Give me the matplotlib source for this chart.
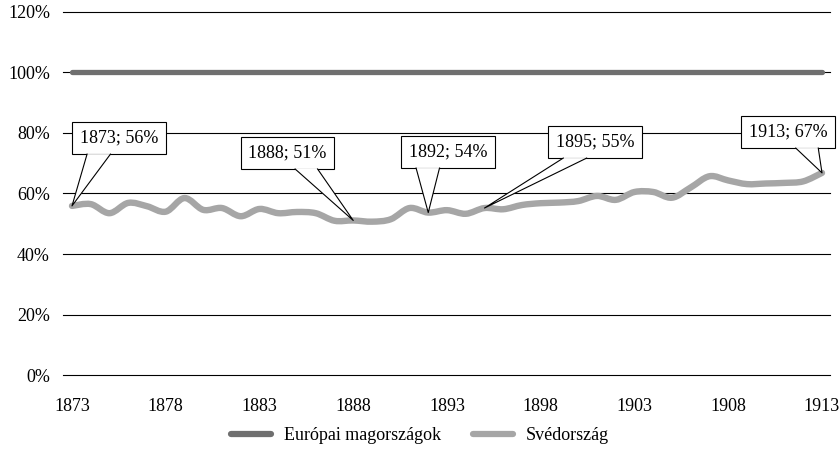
import numpy as np
import matplotlib.pyplot as plt
from matplotlib.path import Path
from matplotlib.patches import PathPatch, Polygon
from matplotlib.lines import Line2D

plt.rcParams['font.family'] = ['Liberation Serif', 'DejaVu Serif']

years = list(range(1873, 1914))
europe = [100] * len(years)
sweden = [55.9, 56.5, 53.5, 56.9, 55.8, 54.0, 58.5, 54.6, 55.2, 52.5,
          54.9, 53.5, 53.9, 53.5, 51.0, 51.1, 50.7, 51.5, 55.2, 53.7,
          54.5, 53.3, 55.2, 54.8, 56.2, 56.8, 57.0, 57.5, 59.2, 57.9,
          60.5, 60.5, 58.6, 62.0, 65.7, 64.3, 63.1, 63.3, 63.5, 64.0, 66.8]
xticks = [1873, 1878, 1883, 1888, 1893, 1898, 1903, 1908, 1913]
yticks = [0, 20, 40, 60, 80, 100, 120]

# callouts: year, label text, box centre (x, y)
callouts = [
    (1873, '1873; 56%', (1875.5, 78.3)),
    (1888, '1888; 51%', (1884.5, 73.4)),
    (1892, '1892; 54%', (1893.05, 73.7)),
    (1895, '1895; 55%', (1900.9, 77.0)),
    (1913, '1913; 67%', (1911.2, 80.3)),
]


def smooth_path(x, y):
    # Excel-style smoothed line: Catmull-Rom turned into cubic Bezier segments
    x = np.asarray(x, float)
    y = np.asarray(y, float)
    verts = [(x[0], y[0])]
    codes = [Path.MOVETO]
    n = len(x)
    for i in range(n - 1):
        p0 = i - 1 if i > 0 else i
        p3 = i + 2 if i + 2 < n else i + 1
        c1 = (x[i] + (x[i + 1] - x[p0]) / 6, y[i] + (y[i + 1] - y[p0]) / 6)
        c2 = (x[i + 1] - (x[p3] - x[i]) / 6, y[i + 1] - (y[p3] - y[i]) / 6)
        verts += [c1, c2, (x[i + 1], y[i + 1])]
        codes += [Path.CURVE4] * 3
    return Path(verts, codes)


fig = plt.figure(figsize=(8.4, 4.57), dpi=100)
ax = fig.add_axes([63 / 840, 0.1788, (830 - 63) / 840, 0.9744 - 0.1788])

ax.set_xlim(1873 - 9 / 18.75, 1913 + 8 / 18.75)
ax.set_ylim(0, 120)
for v in yticks:
    ax.axhline(v, color='black', lw=0.8, zorder=1, clip_on=False)

ax.plot(years, europe, color='#6f6f6f', lw=3.8, solid_capstyle='round', zorder=3)
ax.add_patch(PathPatch(smooth_path(years, sweden), fc='none', ec='#a6a6a6',
                       lw=4.6, capstyle='round', joinstyle='round', zorder=3))

texts = []
for yr, txt, pos in callouts:
    t = ax.text(pos[0], pos[1], txt, ha='center', va='center', fontsize=13, zorder=5,
                bbox=dict(boxstyle='square,pad=0.42', fc='white', ec='black', lw=0.8))
    texts.append(t)

ax.set_xticks(xticks)
ax.set_xticklabels([str(t) for t in xticks], fontsize=13)
ax.set_yticks(yticks)
ax.set_yticklabels([f'{v}%' for v in yticks], fontsize=13)
ax.tick_params(length=0)
ax.tick_params(axis='y', pad=9.4)
ax.tick_params(axis='x', pad=16)
for s in ax.spines.values():
    s.set_visible(False)

# pointer of each callout: a white triangle glued to the bottom of the box
fig.canvas.draw()
inv = ax.transData.inverted()
for (yr, txt, pos), t in zip(callouts, texts):
    bb = t.get_bbox_patch().get_window_extent()
    tip = ax.transData.transform((yr, sweden[years.index(yr)]))
    if tip[0] < (bb.x0 + bb.x1) / 2:
        f0, f1 = 0.16, 0.41
    else:
        f0, f1 = 0.58, 0.82
    b0 = (bb.x0 + f0 * bb.width, bb.y0)
    b1 = (bb.x0 + f1 * bb.width, bb.y0)
    tri = inv.transform([b0, tip, b1])
    ax.add_patch(Polygon([tri[0], tri[1], tri[2]], closed=True, fc='white',
                         ec='none', zorder=6))
    ax.plot([tri[0][0], tri[1][0], tri[2][0]], [tri[0][1], tri[1][1], tri[2][1]],
            color='black', lw=0.8, zorder=7)

handles = [Line2D([], [], color='#6f6f6f', lw=4.5, solid_capstyle='round'),
           Line2D([], [], color='#a6a6a6', lw=4.5, solid_capstyle='round')]
fig.legend(handles, ['Európai magországok', 'Svédország'], loc='center',
           bbox_to_anchor=(0.5, 1 - 436 / 457), ncol=2, frameon=False,
           fontsize=13, handlelength=2.2, columnspacing=1.8, handletextpad=0.7)

fig.savefig('out.png', dpi=100)
